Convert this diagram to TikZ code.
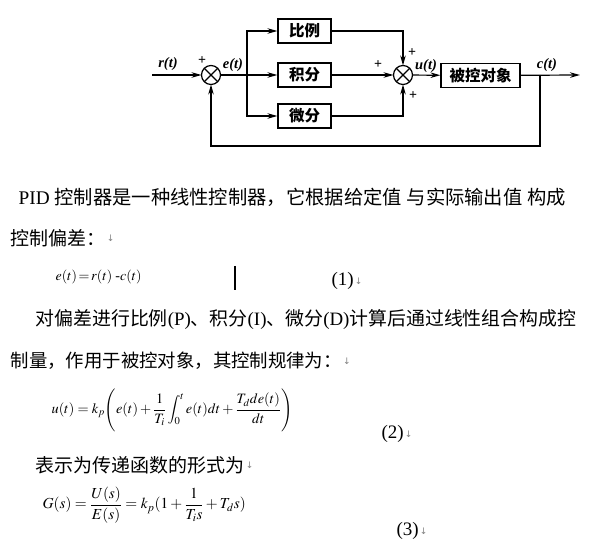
\documentclass[tikz,border=0pt]{standalone}
\usepackage{mathptmx}
\usepackage{fontspec}
\setmainfont{Liberation Serif}
\newfontfamily\cjk{Noto Sans CJK SC}
\newfontfamily\dejavu{DejaVu Sans}
\usetikzlibrary{arrows.meta}
\begin{document}
\begin{tikzpicture}[x=1pt,y=-1pt,
  line width=1.2pt,
  arr/.style={-{Stealth[length=10pt,width=5.5pt]}},
  sum/.style={circle,draw,minimum size=19pt,inner sep=0pt,outer sep=0pt},
  blk/.style={draw,minimum width=53pt,minimum height=24pt,inner sep=0pt,font=\cjk\bfseries\fontsize{15.5}{17}\selectfont},
  lab/.style={font=\bfseries\itshape\fontsize{14.5}{16}\selectfont,inner sep=0pt},
  pl/.style={font=\bfseries\fontsize{14}{14}\selectfont,inner sep=0pt},
  txt/.style={anchor=west,inner sep=0pt,font=\fontsize{19}{22}\selectfont},
  mk/.style={anchor=west,inner sep=0pt,text=gray,font=\dejavu\fontsize{9}{10}\selectfont}]
\fill[white] (0,0) rectangle (603,553);
\useasboundingbox (0,0) rectangle (603,553);
% block diagram
\node[sum] (s1) at (211,75) {};
\node[sum] (s2) at (403,75) {};
\draw (s1.north west) -- (s1.south east) (s1.north east) -- (s1.south west);
\draw (s2.north west) -- (s2.south east) (s2.north east) -- (s2.south west);
\node[blk] (P) at (304.5,31) {比例};
\node[blk] (I) at (304.5,75) {积分};
\node[blk] (D) at (304.5,116) {微分};
\node[blk,minimum width=79pt] (G) at (480.5,75.5) {被控对象};
\coordinate (in) at (152,75);
\coordinate (out) at (580,75);
\coordinate (br) at (247,75);
\coordinate (fb) at (540,75);
\coordinate (fbc) at (540,146);
\draw[arr] (in) -- (s1);
\draw (s1) -- (br);
\draw[arr] (br) |- (P);
\draw[arr] (br) -- (I);
\draw[arr] (br) |- (D);
\draw[arr] (P) -| (s2);
\draw[arr] (I) -- (s2);
\draw[arr] (D) -| (s2);
\draw[arr] (s2) -- (G);
\draw[arr] (G) -- (out);
\draw[arr] (fb) -- (fbc) -| (s1);
\node[lab] (rl) at (168,64) {r(t)};
\node[lab] (el) at (233,65) {e(t)};
\node[lab] (ul) at (426,66) {u(t)};
\node[lab] (cl) at (547,65) {c(t)};
\node[pl] (p1) at (202,61) {+};
\node[pl] (p2) at (412,53) {+};
\node[pl] (p3) at (378,65) {+};
\node[pl] (p4) at (413,96) {+};
% text
\node[txt] (l1) at (18,197) {\fontsize{19.3}{22}\selectfont PID {\cjk 控制器是一种线性控制器，它根据给定值} {\cjk 与实际输出值} {\cjk 构成}};
\node[txt] (l2) at (10,238) {\cjk 控制偏差：};
\node[mk] (m2) at (l2.east) {↓};
\node[anchor=west,inner sep=0pt,font=\fontsize{14}{16}\selectfont] (e1) at (55,277) {$e(t)\!=\!r(t)\;\mbox{-}c(t)$};
\draw[line width=2pt] (235,266) -- (235,290);
\node[txt] (n1) at (331,281) {(1)};
\node[mk] (m1) at (n1.east) {↓};
\node[txt] (l3) at (35,320) {\fontsize{18.9}{22}\selectfont{\cjk 对偏差进行比例}(P){\cjk 、积分}(I){\cjk 、微分}(D){\cjk 计算后通过线性组合构成控}};
\node[txt] (l4) at (10,361) {\fontsize{18.4}{22}\selectfont\cjk 制量，作用于被控对象，其控制规律为：};
\node[mk] (m4) at (l4.east) {↓};
\node[anchor=west,inner sep=0pt,font=\fontsize{14.3}{16}\selectfont] (e2) at (51,410) {$\displaystyle u(t)=k_p\Biggl(e(t)+\frac{1}{T_i}\int_0^t e(t)dt+\frac{T_d de(t)}{dt}\Biggr)$};
\node[txt] (n2) at (381,434) {(2)};
\node[mk] (mn2) at (n2.east) {↓};
\node[txt] (l5) at (35,465) {\cjk 表示为传递函数的形式为};
\node[mk] (m5) at (l5.east) {↓};
\node[anchor=west,inner sep=0pt,font=\fontsize{15.3}{17}\selectfont] (e3) at (42,505) {$\displaystyle G(s)=\frac{U(s)}{E(s)}=k_p(1+\frac{1}{T_i s}+T_d s)$};
\node[txt] (n3) at (396,531) {(3)};
\node[mk] (mn3) at (n3.east) {↓};
\end{tikzpicture}
\end{document}
